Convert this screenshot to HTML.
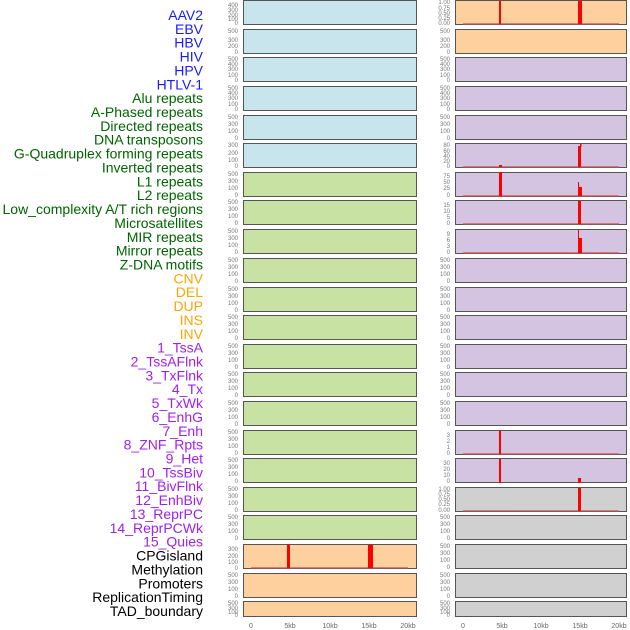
<!DOCTYPE html>
<html><head><meta charset="utf-8"><style>
body{margin:0;background:#fff}
svg{display:block}
.l{font-family:"Liberation Sans",sans-serif;font-size:14px;text-anchor:end}
.t{font-family:"Liberation Sans",sans-serif;font-size:6px;fill:#777;text-anchor:end}
.x{font-family:"Liberation Sans",sans-serif;font-size:7px;fill:#666;text-anchor:middle}
</style></head><body>
<svg width="630" height="630" viewBox="0 0 630 630" xmlns="http://www.w3.org/2000/svg">
<g class="l">
<g fill="#1a1aff">
<text x="203" y="20">AAV2</text><text x="203" y="33.9">EBV</text><text x="203" y="47.7">HBV</text><text x="203" y="61.6">HIV</text><text x="203" y="75.4">HPV</text><text x="203" y="89.3">HTLV-1</text>
</g>
<g fill="#006400">
<text x="203" y="103.2">Alu repeats</text><text x="203" y="117">A-Phased repeats</text><text x="203" y="130.9">Directed repeats</text><text x="203" y="144.7">DNA transposons</text><text x="203" y="158.6">G-Quadruplex forming repeats</text><text x="203" y="172.5">Inverted repeats</text><text x="203" y="186.3">L1 repeats</text><text x="203" y="200.2">L2 repeats</text><text x="203" y="214">Low_complexity A/T rich regions</text><text x="203" y="227.9">Microsatellites</text><text x="203" y="241.8">MIR repeats</text><text x="203" y="255.6">Mirror repeats</text><text x="203" y="269.5">Z-DNA motifs</text>
</g>
<g fill="#ffa500">
<text x="203" y="283.3">CNV</text><text x="203" y="297.2">DEL</text><text x="203" y="311.1">DUP</text><text x="203" y="324.9">INS</text><text x="203" y="338.8">INV</text>
</g>
<g fill="#a020f0">
<text x="203" y="352.6">1_TssA</text><text x="203" y="366.5">2_TssAFlnk</text><text x="203" y="380.4">3_TxFlnk</text><text x="203" y="394.2">4_Tx</text><text x="203" y="408.1">5_TxWk</text><text x="203" y="421.9">6_EnhG</text><text x="203" y="435.8">7_Enh</text><text x="203" y="449.7">8_ZNF_Rpts</text><text x="203" y="463.5">9_Het</text><text x="203" y="477.4">10_TssBiv</text><text x="203" y="491.2">11_BivFlnk</text><text x="203" y="505.1">12_EnhBiv</text><text x="203" y="519">13_ReprPC</text><text x="203" y="532.8">14_ReprPCWk</text><text x="203" y="546.7">15_Quies</text>
</g>
<g fill="#000">
<text x="203" y="560.5">CPGisland</text><text x="203" y="574.4">Methylation</text><text x="203" y="588.3">Promoters</text><text x="203" y="602.1">ReplicationTiming</text><text x="203" y="616">TAD_boundary</text>
</g>
</g>
<g stroke="#555" stroke-width="1">
<!-- left column -->
<g fill="#c8e4ec">
<rect x="243.5" y="0.5" width="173" height="24"/><rect x="243.5" y="29.5" width="173" height="24"/><rect x="243.5" y="57.5" width="173" height="24"/><rect x="243.5" y="86.5" width="173" height="24"/><rect x="243.5" y="115.5" width="173" height="24"/><rect x="243.5" y="143.5" width="173" height="24"/>
</g>
<g fill="#c8e2a4">
<rect x="243.5" y="172.5" width="173" height="24"/><rect x="243.5" y="200.5" width="173" height="24"/><rect x="243.5" y="229.5" width="173" height="24"/><rect x="243.5" y="258.5" width="173" height="24"/><rect x="243.5" y="287.5" width="173" height="24"/><rect x="243.5" y="315.5" width="173" height="24"/><rect x="243.5" y="344.5" width="173" height="24"/><rect x="243.5" y="372.5" width="173" height="24"/><rect x="243.5" y="401.5" width="173" height="24"/><rect x="243.5" y="430.5" width="173" height="24"/><rect x="243.5" y="458.5" width="173" height="24"/><rect x="243.5" y="487.5" width="173" height="24"/><rect x="243.5" y="515.5" width="173" height="24"/>
</g>
<g fill="#fed09e">
<rect x="243.5" y="544.5" width="173" height="24"/><rect x="243.5" y="573.5" width="173" height="24"/><rect x="243.5" y="601.5" width="173" height="15"/>
</g>
<!-- right column -->
<g fill="#fed09e">
<rect x="455.5" y="0.5" width="171" height="24"/><rect x="455.5" y="29.5" width="171" height="24"/>
</g>
<g fill="#d4c4e2">
<rect x="455.5" y="57.5" width="171" height="24"/><rect x="455.5" y="86.5" width="171" height="24"/><rect x="455.5" y="115.5" width="171" height="24"/><rect x="455.5" y="143.5" width="171" height="24"/><rect x="455.5" y="172.5" width="171" height="24"/><rect x="455.5" y="200.5" width="171" height="24"/><rect x="455.5" y="229.5" width="171" height="24"/><rect x="455.5" y="258.5" width="171" height="24"/><rect x="455.5" y="287.5" width="171" height="24"/><rect x="455.5" y="315.5" width="171" height="24"/><rect x="455.5" y="344.5" width="171" height="24"/><rect x="455.5" y="372.5" width="171" height="24"/><rect x="455.5" y="401.5" width="171" height="24"/><rect x="455.5" y="430.5" width="171" height="24"/><rect x="455.5" y="458.5" width="171" height="24"/>
</g>
<g fill="#d0d0d0">
<rect x="455.5" y="487.5" width="171" height="24"/><rect x="455.5" y="515.5" width="171" height="24"/><rect x="455.5" y="544.5" width="171" height="24"/><rect x="455.5" y="573.5" width="171" height="24"/><rect x="455.5" y="601.5" width="171" height="15"/>
</g>
</g>
<!-- baselines -->
<g fill="#e06060" opacity="0.8">
<rect x="463" y="23" width="156" height="1.5"/><rect x="463" y="166" width="156" height="1.5"/><rect x="463" y="195" width="156" height="1.5"/><rect x="463" y="223" width="156" height="1.5"/><rect x="463" y="252" width="156" height="1.5"/><rect x="463" y="453" width="156" height="1.5"/><rect x="463" y="510" width="156" height="1.5"/><rect x="251" y="567" width="157" height="1.5"/>
</g>
<!-- red bars -->
<g fill="#ff0000">
<rect x="499" y="1" width="2" height="23"/><rect x="578" y="1" width="4" height="23"/>
<rect x="578" y="146" width="3" height="21"/><rect x="580" y="144" width="1.5" height="3"/><rect x="499" y="165" width="3" height="2"/>
<rect x="499" y="172" width="3" height="24"/><rect x="578" y="187" width="4" height="9"/><rect x="578" y="182" width="1" height="6"/>
<rect x="578" y="201" width="3" height="23"/>
<rect x="578" y="238" width="4" height="15"/><rect x="578" y="230" width="1" height="8"/>
<rect x="499" y="430" width="2" height="24"/>
<rect x="499" y="459" width="2" height="24"/><rect x="578" y="478" width="3" height="5"/>
<rect x="578" y="488" width="3" height="23"/>
<rect x="287" y="545" width="3" height="23"/><rect x="368" y="545" width="5" height="23"/>
</g>
<!-- y tick labels -->
<g class="t">
<text x="238" y="7">400</text><text x="238" y="12">300</text><text x="238" y="17">200</text><text x="238" y="21">100</text><text x="238" y="25">0</text>
<text x="450" y="4">1.00</text><text x="450" y="10">0.75</text><text x="450" y="15">0.50</text><text x="450" y="20">0.25</text><text x="450" y="25">0.00</text>
<text x="238" y="33">500</text><text x="238" y="42">300</text><text x="238" y="48">200</text><text x="238" y="54">0</text>
<text x="450" y="33">500</text><text x="450" y="42">300</text><text x="450" y="48">200</text><text x="450" y="54">0</text>
<text x="238" y="61">500</text><text x="238" y="66">400</text><text x="238" y="71">300</text><text x="238" y="77">100</text><text x="238" y="82">0</text>
<text x="450" y="61">500</text><text x="450" y="66">400</text><text x="450" y="71">300</text><text x="450" y="77">100</text><text x="450" y="82">0</text>
<text x="238" y="90">500</text><text x="238" y="95">400</text><text x="238" y="100">300</text><text x="238" y="106">100</text><text x="238" y="111">0</text>
<text x="450" y="90">500</text><text x="450" y="95">400</text><text x="450" y="100">300</text><text x="450" y="106">100</text><text x="450" y="111">0</text>
<text x="238" y="119">500</text><text x="238" y="126">300</text><text x="238" y="133">100</text><text x="238" y="140">0</text>
<text x="450" y="119">500</text><text x="450" y="126">300</text><text x="450" y="133">100</text><text x="450" y="140">0</text>
<text x="238" y="147">300</text><text x="238" y="155">200</text><text x="238" y="162">100</text><text x="238" y="168">0</text>
<text x="450" y="147">80</text><text x="450" y="153">60</text><text x="450" y="158">40</text><text x="450" y="163">20</text><text x="450" y="168">0</text>
<text x="238" y="176">500</text><text x="238" y="183">300</text><text x="238" y="190">100</text><text x="238" y="197">0</text>
<text x="450" y="178">75</text><text x="450" y="184">50</text><text x="450" y="190">25</text><text x="450" y="197">0</text>
<text x="238" y="204">500</text><text x="238" y="211">300</text><text x="238" y="218">100</text><text x="238" y="225">0</text>
<text x="450" y="207">15</text><text x="450" y="213">10</text><text x="450" y="219">5</text><text x="450" y="225">0</text>
<text x="238" y="233">500</text><text x="238" y="240">300</text><text x="238" y="247">100</text><text x="238" y="254">0</text>
<text x="450" y="236">9</text><text x="450" y="242">6</text><text x="450" y="248">3</text><text x="450" y="254">0</text>
<text x="238" y="262">500</text><text x="238" y="269">300</text><text x="238" y="276">100</text><text x="238" y="283">0</text>
<text x="450" y="262">500</text><text x="450" y="269">300</text><text x="450" y="276">100</text><text x="450" y="283">0</text>
<text x="238" y="291">500</text><text x="238" y="298">300</text><text x="238" y="305">100</text><text x="238" y="312">0</text>
<text x="450" y="291">500</text><text x="450" y="298">300</text><text x="450" y="305">100</text><text x="450" y="312">0</text>
<text x="238" y="319">500</text><text x="238" y="326">300</text><text x="238" y="333">100</text><text x="238" y="340">0</text>
<text x="450" y="319">500</text><text x="450" y="326">300</text><text x="450" y="333">100</text><text x="450" y="340">0</text>
<text x="238" y="348">500</text><text x="238" y="355">300</text><text x="238" y="362">100</text><text x="238" y="369">0</text>
<text x="450" y="348">500</text><text x="450" y="355">300</text><text x="450" y="362">100</text><text x="450" y="369">0</text>
<text x="238" y="376">500</text><text x="238" y="383">300</text><text x="238" y="390">100</text><text x="238" y="397">0</text>
<text x="450" y="376">500</text><text x="450" y="383">300</text><text x="450" y="390">100</text><text x="450" y="397">0</text>
<text x="238" y="405">500</text><text x="238" y="412">300</text><text x="238" y="419">100</text><text x="238" y="426">0</text>
<text x="450" y="405">500</text><text x="450" y="412">300</text><text x="450" y="419">100</text><text x="450" y="426">0</text>
<text x="238" y="434">500</text><text x="238" y="441">300</text><text x="238" y="448">100</text><text x="238" y="455">0</text>
<text x="450" y="437">3</text><text x="450" y="443">2</text><text x="450" y="449">1</text><text x="450" y="455">0</text>
<text x="238" y="462">500</text><text x="238" y="469">300</text><text x="238" y="476">100</text><text x="238" y="483">0</text>
<text x="450" y="465">30</text><text x="450" y="471">20</text><text x="450" y="477">10</text><text x="450" y="483">0</text>
<text x="238" y="491">500</text><text x="238" y="498">300</text><text x="238" y="505">100</text><text x="238" y="512">0</text>
<text x="450" y="491">1.00</text><text x="450" y="496">0.75</text><text x="450" y="501">0.50</text><text x="450" y="506">0.25</text><text x="450" y="512">0.00</text>
<text x="238" y="519">500</text><text x="238" y="526">300</text><text x="238" y="533">100</text><text x="238" y="540">0</text>
<text x="450" y="519">500</text><text x="450" y="526">300</text><text x="450" y="533">100</text><text x="450" y="540">0</text>
<text x="238" y="551">300</text><text x="238" y="558">200</text><text x="238" y="564">100</text><text x="238" y="570">0</text>
<text x="450" y="548">500</text><text x="450" y="555">300</text><text x="450" y="562">100</text><text x="450" y="569">0</text>
<text x="238" y="577">500</text><text x="238" y="584">300</text><text x="238" y="591">100</text><text x="238" y="598">0</text>
<text x="450" y="577">500</text><text x="450" y="584">300</text><text x="450" y="591">100</text><text x="450" y="598">0</text>
<text x="238" y="605">500</text><text x="238" y="610">300</text><text x="238" y="614">100</text><text x="238" y="617">0</text>
<text x="450" y="605">500</text><text x="450" y="610">300</text><text x="450" y="614">100</text><text x="450" y="617">0</text>
</g>
<g class="x">
<text x="251" y="628">0</text><text x="290" y="628">5kb</text><text x="330" y="628">10kb</text><text x="369" y="628">15kb</text><text x="408" y="628">20kb</text>
<text x="463" y="628">0</text><text x="502" y="628">5kb</text><text x="541" y="628">10kb</text><text x="580" y="628">15kb</text><text x="619" y="628">20kb</text>
</g>
</svg>
</body></html>
